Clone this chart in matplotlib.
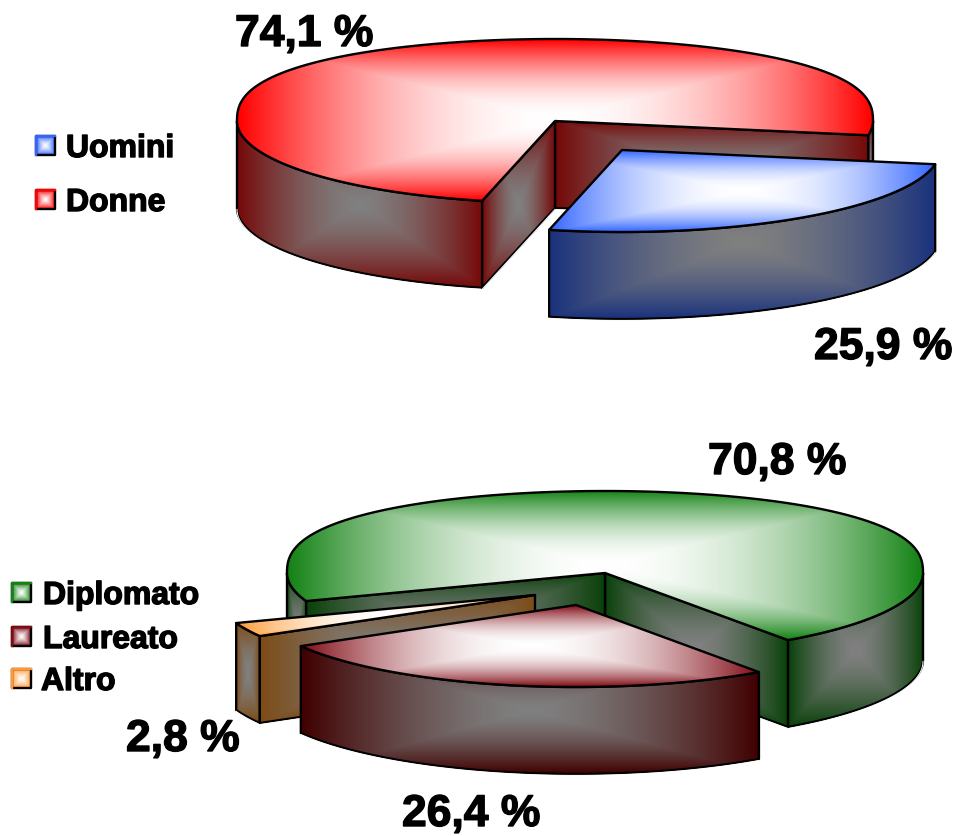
import numpy as np
import matplotlib
matplotlib.use("Agg")
import matplotlib.pyplot as plt
import matplotlib.patheffects as pe
from matplotlib.patches import PathPatch
from matplotlib.path import Path

# data
sex_labels = ["Uomini", "Donne"]
sex_values = [25.9, 74.1]
sex_texts = ["25,9 %", "74,1 %"]

title_labels = ["Diplomato", "Laureato", "Altro"]
title_values = [70.8, 26.4, 2.8]
title_texts = ["70,8 %", "26,4 %", "2,8 %"]

# (top rim colour, side rim colour)
RED = ((255, 0, 0), (118, 8, 8))
BLUE = ((51, 102, 255), (26, 50, 125))
GREEN = ((20, 130, 20), (10, 65, 10))
WINE = ((128, 10, 20), (64, 0, 0))
ORANGE = ((255, 153, 51), (125, 75, 22))
WHITE = (255, 255, 255)
GREY = (128, 128, 128)

RX, RY, DEPTH = 318, 82, 87

fig = plt.figure(figsize=(9.59, 8.37), dpi=100)
ax = fig.add_axes([0, 0, 1, 1])
ax.axis("off")

z = [1]


def gradient(xs, ys, rim, center, clip, power):
    x0, x1, y0, y1 = min(xs), max(xs), min(ys), max(ys)
    u = np.abs(np.linspace(-1, 1, 200))
    v = np.abs(np.linspace(-1, 1, 140))
    t = np.maximum(u[None, :], v[:, None])[..., None] ** power
    col = (np.array(center) * (1 - t) + np.array(rim) * t) / 255
    im = ax.imshow(col, extent=(x0, x1, y1, y0), aspect="auto", zorder=z[0],
                   interpolation="bilinear")
    im.set_clip_path(clip)


def face(xs, ys, rim, center, power=1.9):
    verts = list(zip(xs, ys)) + [(xs[0], ys[0])]
    codes = [Path.MOVETO] + [Path.LINETO] * (len(xs) - 1) + [Path.CLOSEPOLY]
    patch = PathPatch(Path(verts, codes), fc="none", ec="black", lw=1.7, zorder=z[0] + 1,
                      joinstyle="round")
    ax.add_patch(patch)
    gradient(xs, ys, rim, center, patch, power)
    z[0] += 2


def rim(cx, cy, a1, a2):
    a = np.radians(np.linspace(a1, a2, max(int(abs(a2 - a1)), 2) + 1))
    s = np.sin(a)
    # back of the disc is a bit fuller than a true ellipse
    s = np.where(s > 0, np.abs(s) ** 0.8, s)
    return cx + RX * np.cos(a), cy - RY * s


def highlight(xs, ys):
    ax.plot(np.array(xs), np.array(ys) + 1.4, color="white", lw=0.7, zorder=z[0])
    z[0] += 1


def side(cx, cy, a1, a2, color):
    # only the part of the rim facing the viewer
    for base in (-540, -180, 180):
        lo, hi = max(a1, base), min(a2, base + 180)
        if hi > lo:
            xs, ys = rim(cx, cy, lo, hi)
            face(list(xs) + list(xs[::-1]), list(ys) + list(ys[::-1] + DEPTH), color[1], GREY, 1.5)
            highlight(xs, ys + DEPTH)


def wall(cx, cy, a, color):
    xs, ys = rim(cx, cy, a, a)
    x, y = xs[0], ys[0]
    face([cx, x, x, cx], [cy, y, y + DEPTH, cy + DEPTH], color[1], GREY, 1.5)
    highlight([cx, x], [cy + DEPTH, y + DEPTH])


def top(cx, cy, a1, a2, color):
    xs, ys = rim(cx, cy, a1, a2)
    face([cx] + list(xs), [cy] + list(ys), color[0], WHITE)


def key(x, y, color):
    s = 19
    face([x, x + s, x + s, x], [y, y, y + s, y + s], color[0], WHITE, 1.3)
    ax.plot([x, x, x + s], [y + s, y, y], color=np.array(color[0]) / 255, lw=1.7, zorder=z[0])
    z[0] += 1


def label(x, y, s, size):
    ax.text(x, y, s, fontsize=size, family="Liberation Sans", weight="bold", color="black",
            ha="left", va="baseline", zorder=500,
            path_effects=[pe.withStroke(linewidth=1.0, foreground="black")])


# upper pie, slices go clockwise from the start angle
start = -10
a_uomini = start - sex_values[0] * 3.6
a_donne = a_uomini - sex_values[1] * 3.6
side(555, 122, a_donne, a_uomini, RED)
wall(555, 122, start, RED)
wall(555, 122, a_uomini, RED)
top(555, 122, a_donne, a_uomini, RED)
side(622, 151, a_uomini, start, BLUE)
top(622, 151, a_uomini, start, BLUE)

# lower pie
start = 200
a_dipl = start - title_values[0] * 3.6
a_laur = a_dipl - title_values[1] * 3.6
a_altro = a_laur - title_values[2] * 3.6
side(605, 574, a_dipl, start, GREEN)
wall(605, 574, a_dipl, GREEN)
wall(605, 574, start, GREEN)
top(605, 574, a_dipl, start, GREEN)
side(535, 596, a_altro, a_laur, ORANGE)
wall(535, 596, a_laur, ORANGE)
top(535, 596, a_altro, a_laur, ORANGE)
side(576, 606, a_laur, a_dipl, WINE)
top(576, 606, a_laur, a_dipl, WINE)

# legends
for lab, col, y in zip(sex_labels, [BLUE, RED], [137, 191]):
    key(36, y, col)
    label(66, y + 21, lab, 23)
for lab, col, y, lx in zip(title_labels, [GREEN, WINE, ORANGE], [584, 628, 670], [43, 43, 41]):
    key(12, y, col)
    label(lx, y + 21, lab, 23)

# percentages
label(814, 360, sex_texts[0], 32)
label(235, 47, sex_texts[1], 32)
label(708, 475, title_texts[0], 32)
label(402, 827, title_texts[1], 32)
label(126, 752, title_texts[2], 32)

ax.set_xlim(0, 959)
ax.set_ylim(837, 0)
fig.savefig("out.png", dpi=100, facecolor="white")
